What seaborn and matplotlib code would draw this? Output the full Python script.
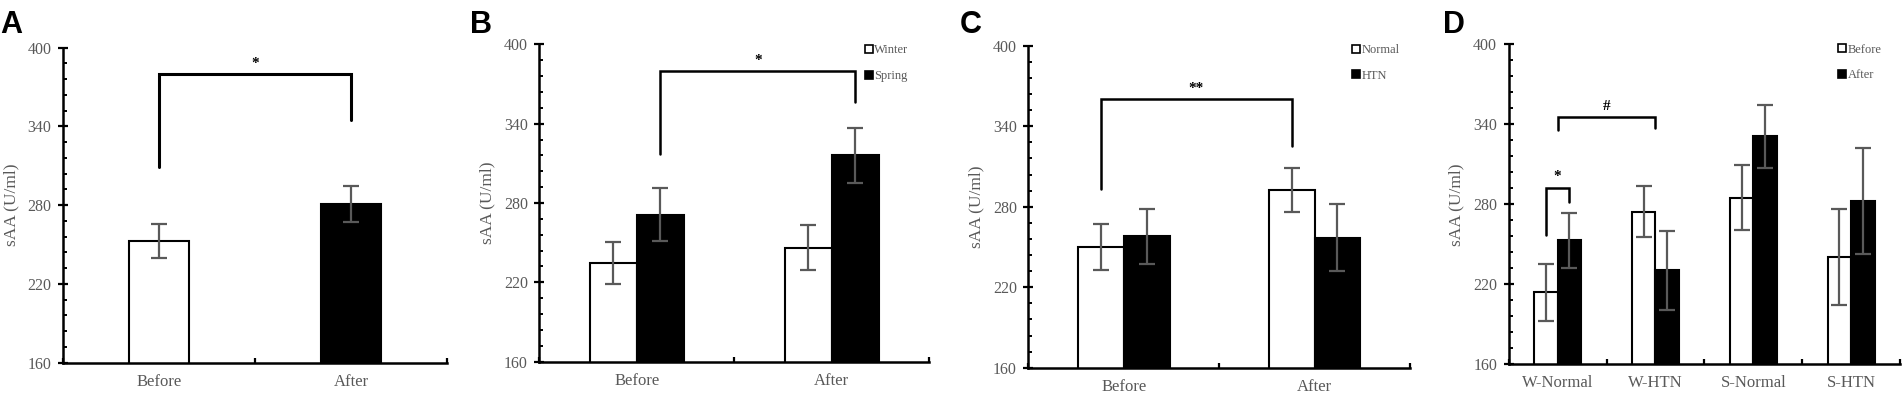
import matplotlib
matplotlib.use("Agg")
import matplotlib.pyplot as plt
import numpy as np
import pandas as pd
import seaborn as sns
from matplotlib.lines import Line2D
from matplotlib.ticker import FixedLocator

# ---------------- data ----------------
a_groups = ["Before", "After"]
a_means = [253, 281]
a_errs = [13, 14]

b_groups = ["Before", "After"]
b_series = ["Winter", "Spring"]
b_winter = [234.5, 246]
b_winter_err = [16, 17]
b_spring = [271, 316]
b_spring_err = [20, 21]

c_groups = ["Before", "After"]
c_series = ["Normal", "HTN"]
c_normal = [250, 292.5]
c_normal_err = [17, 16.7]
c_htn = [258, 257]
c_htn_err = [20.5, 25]

d_groups = ["W-Normal", "W-HTN", "S-Normal", "S-HTN"]
d_series = ["Before", "After"]
d_before = [214, 274.5, 285, 240.5]
d_before_err = [21.5, 19, 24.5, 36]
d_after = [253, 230.5, 331, 282.5]
d_after_err = [20.7, 29.7, 23.8, 40]

y_ticks = [160, 220, 280, 340, 400]
y_minor_step = 12

# significance brackets: (left (series, cat), right (series, cat), top, left leg bottom, right leg bottom, text)
a_brackets = [((0, 0), (1, 0), 380, 309, 345, "*")]
b_brackets = [((1, 0), (1, 1), 380, 317, 356, "*")]
c_brackets = [((0, 0), (0, 1), 360.5, 293, 325.5, "**")]
d_brackets = [((0, 0), (1, 0), 292.5, 257, 282, "*"),
              (("g", 0), ("g", 1), 345.7, 336, 337, "#")]

y_label = "sAA (U/ml)"
GRAY = "#595959"
SERIF = "Liberation Serif"

sns.set_theme(style="white")
plt.rcParams["font.family"] = [SERIF, "DejaVu Serif"]

W, H = 1904, 400
fig = plt.figure(figsize=(W / 100, H / 100), dpi=100)


def add_ax(l, r, top, bottom):
    return fig.add_axes([l / W, 1 - bottom / H, (r - l) / W, (bottom - top) / H])


def style_axis(ax, n_cat, width_px):
    ax.set_ylim(y_ticks[0], y_ticks[-1])
    ax.set_xlim(-0.5, n_cat - 0.5)
    ax.yaxis.set_major_locator(FixedLocator(y_ticks))
    ax.yaxis.set_minor_locator(FixedLocator(np.arange(y_ticks[0], y_ticks[-1] + 1, y_minor_step)))
    ax.xaxis.set_minor_locator(FixedLocator(np.arange(n_cat + 1) - 0.5))
    for s in ["top", "right"]:
        ax.spines[s].set_visible(False)
    for s in ["left", "bottom"]:
        ax.spines[s].set_linewidth(1.8)
        ax.spines[s].set_color("black")
    ax.tick_params(axis="y", which="major", direction="inout", length=6.5, width=1.6,
                   color="black", labelsize=11.5, labelcolor=GRAY, pad=5, left=True)
    ax.tick_params(axis="y", which="minor", direction="in", length=3, width=1.4,
                   color="black", left=True)
    ax.tick_params(axis="x", which="major", length=0, labelsize=12, labelcolor=GRAY, pad=8,
                   bottom=True)
    ax.tick_params(axis="x", which="minor", direction="in", length=3.5, width=1.6,
                   color="black", bottom=True)
    for lab in ax.get_xticklabels() + ax.get_yticklabels():
        lab.set_family(SERIF)
    ax.set_xlabel("")
    ax.set_ylabel(y_label, fontsize=12.5, color=GRAY, family=SERIF)
    ax.yaxis.set_label_coords(-44 / width_px, 0.5)
    ax.grid(False)


def center(ax, key):
    s, c = key
    if s == "g":
        p0 = ax.containers[0][c]
        p1 = ax.containers[1][c]
        return (p0.get_x() + p0.get_width() / 2 + p1.get_x() + p1.get_width() / 2) / 2
    p = ax.containers[s][c]
    return p.get_x() + p.get_width() / 2


def add_errorbars(ax, errs_by_container):
    for cont, errs in zip(ax.containers, errs_by_container):
        xs = [p.get_x() + p.get_width() / 2 for p in cont]
        ys = [p.get_y() + p.get_height() for p in cont]
        ax.errorbar(xs, ys, yerr=errs, fmt="none", ecolor=GRAY, elinewidth=1.6,
                    capsize=5.5, capthick=1.6, zorder=5)


def add_brackets(ax, brackets, lw=1.8):
    for left, right, top, lb, rb, txt in brackets:
        x0, x1 = center(ax, left), center(ax, right)
        ax.plot([x0, x0, x1, x1], [lb, top, top, rb], color="black", lw=lw,
                solid_joinstyle="miter", zorder=6, clip_on=False)
        ax.annotate(txt, xy=((x0 + x1) / 2, top), xytext=(0, 3), textcoords="offset points",
                    ha="center", va="bottom", fontsize=11, fontweight="bold",
                    color="black", family=SERIF)


def add_legend(ax, labels, x, y):
    handles = [Line2D([], [], marker="s", linestyle="none", markersize=5.5,
                      markerfacecolor=fc, markeredgecolor="black", markeredgewidth=1.2)
               for fc in ["white", "black"]]
    leg = ax.legend(handles, labels, loc="upper left", bbox_to_anchor=(x, y),
                    frameon=False, handlelength=0.6, handletextpad=0.15,
                    labelspacing=1.1, borderpad=0, borderaxespad=0,
                    prop={"family": SERIF, "size": 9})
    for t in leg.get_texts():
        t.set_color(GRAY)


def long_df(groups, series, values):
    rows = []
    for s, vals in zip(series, values):
        for g, v in zip(groups, vals):
            rows.append({"group": g, "series": s, "value": v})
    return pd.DataFrame(rows)


# ---------- Panel A ----------
axA = add_ax(63, 447, 47.7, 362.7)
dfA = pd.DataFrame({"group": a_groups, "value": a_means})
sns.barplot(data=dfA, x="group", y="value", hue="group", palette=["white", "black"],
            width=0.31, edgecolor="black", linewidth=1.5, errorbar=None, legend=False,
            ax=axA, order=a_groups, hue_order=a_groups)
add_errorbars(axA, [[e] for e in a_errs])
style_axis(axA, 2, 447 - 63)
add_brackets(axA, a_brackets, lw=2.2)

# ---------- Panel B ----------
axB = add_ax(539.3, 929.3, 44.3, 361.7)
dfB = long_df(b_groups, b_series, [b_winter, b_spring])
sns.barplot(data=dfB, x="group", y="value", hue="series", palette=["white", "black"],
            width=0.48, edgecolor="black", linewidth=1.5, errorbar=None, legend=False,
            ax=axB, order=b_groups, hue_order=b_series)
add_errorbars(axB, [b_winter_err, b_spring_err])
style_axis(axB, 2, 929.3 - 539.3)
add_brackets(axB, b_brackets)
add_legend(axB, b_series, 0.835, 1.0)

# ---------- Panel C ----------
axC = add_ax(1028.3, 1410, 45.7, 367.7)
dfC = long_df(c_groups, c_series, [c_normal, c_htn])
sns.barplot(data=dfC, x="group", y="value", hue="series", palette=["white", "black"],
            width=0.48, edgecolor="black", linewidth=1.5, errorbar=None, legend=False,
            ax=axC, order=c_groups, hue_order=c_series)
add_errorbars(axC, [c_normal_err, c_htn_err])
style_axis(axC, 2, 1410 - 1028.3)
add_brackets(axC, c_brackets)
add_legend(axC, c_series, 0.85, 1.005)

# ---------- Panel D ----------
axD = add_ax(1508.7, 1900, 44.3, 364.3)
dfD = long_df(d_groups, d_series, [d_before, d_after])
sns.barplot(data=dfD, x="group", y="value", hue="series", palette=["white", "black"],
            width=0.48, edgecolor="black", linewidth=1.5, errorbar=None, legend=False,
            ax=axD, order=d_groups, hue_order=d_series)
add_errorbars(axD, [d_before_err, d_after_err])
style_axis(axD, 4, 1900 - 1508.7)
add_brackets(axD, d_brackets)
add_legend(axD, d_series, 0.842, 1.002)

# ---------- Panel letters ----------
for letter, xpx in [("A", 0), ("B", 470), ("C", 960), ("D", 1443)]:
    fig.text(xpx / W, 1 - 33 / H, letter, ha="left", va="baseline", fontsize=22,
             fontweight="bold", family=["Liberation Sans", "DejaVu Sans"], color="black")

fig.savefig("out.png", dpi=100, facecolor="white")
